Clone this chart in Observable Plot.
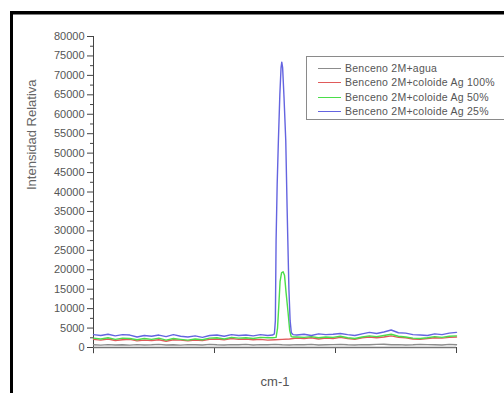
<!DOCTYPE html>
<html>
<head>
<meta charset="utf-8">
<script src="https://cdn.jsdelivr.net/npm/d3@7"></script>
<script src="https://cdn.jsdelivr.net/npm/@observablehq/plot@0.6"></script>
<style>
  html, body { margin: 0; padding: 0; background: #fff; width: 504px; height: 393px; overflow: hidden; }
  #wrap { position: relative; width: 504px; height: 393px; font-family: "Liberation Sans", Arial, sans-serif; }
  #legend { position: absolute; left: 306px; top: 56px; width: 240px; height: 64px; border: 1.3px solid #8a8a8a; box-sizing: border-box; background: #fff; z-index: 3; }
  .row { position: absolute; left: 0; height: 14px; }
  .sw { position: absolute; left: 11px; width: 23px; height: 0; border-top: 1.4px solid; }
  .lt { position: absolute; left: 38px; font-size: 10.5px; letter-spacing: 0.25px; color: #555; white-space: nowrap; line-height: 14px; }
  #chart { position: absolute; left: 0; top: 0; z-index: 1; }
  #topline { position: fixed; left: 10px; top: 11px; width: 494px; height: 3px; background: #000; z-index: 100; }
</style>
</head>
<body>
<div id="wrap">
  <div id="chart"></div>
  <div id="legend"></div>
  <div id="topline"></div>
</div>
<script>
// Series names and colours
const seriesNames = ["Benceno 2M+agua", "Benceno 2M+coloide Ag 100%", "Benceno 2M+coloide Ag 50%", "Benceno 2M+coloide Ag 25%"];
const seriesColors = ["#8c8c8c", "#e05a5a", "#4ade4a", "#6464e0"];

// Y axis tick values (labels)
const yTicks = [0,5000,10000,15000,20000,25000,30000,35000,40000,45000,50000,55000,60000,65000,70000,75000,80000];
const yMinor = [2500,7500,12500,17500,22500,27500,32500,37500,42500,47500,52500,57500,62500,67500,72500,77500];
const xTicks = [0,100,200,300];

// Baseline sample positions (arbitrary cm-1 units, no labels in original)
const xs = [0,6,12,18,24,30,36,42,48,54,60,66,72,78,84,90,96,102,108,114,120,126,132,138,144,150,156,162,168,174,180,186,192,198,204,210,216,222,228,234,240,246,252,258,264,270,276,282,288,294,300];

const agua =   [700,600,750,650,700,600,750,650,700,800,650,700,600,750,700,650,800,700,650,750,700,800,650,750,700,800,700,650,750,700,800,650,700,750,800,700,650,750,700,800,850,700,750,650,700,800,750,700,650,800,700];
const ag100 =  [2100,1900,2200,1800,2000,2100,1700,1900,1800,2000,1600,2000,1900,1700,1900,1800,2100,2200,2000,2300,2100,2200,2000,2100,1900,2000,2100,2200,2400,2300,2500,2200,2400,2300,2600,2300,2100,2500,2700,2500,2700,3000,2600,2500,2200,2100,2300,2500,2400,2600,2700];
const ag50 =   [2400,2200,2500,2100,2400,2300,2000,2300,2100,2400,1900,2300,2100,1900,2200,2000,2400,2500,2200,2600,2400,2500,2300,2600,2500,2600,2600,2600,2700,2600,2800,2500,2700,2600,2900,2500,2300,2700,3000,2800,3100,3400,2900,2700,2400,2300,2500,2800,2600,2900,3000];
const ag25 =   [3300,3100,3400,3000,3300,3200,2700,3100,2900,3200,2800,3300,2900,2700,3000,2600,3100,3200,2900,3300,3100,3200,3000,3300,3100,3200,3200,3200,3200,3400,3100,3500,3300,3400,3600,3300,3100,3500,3900,3600,4000,4500,3800,3700,3300,3200,3100,3500,3300,3700,3900];

// Peak region detail
const peak25X = [148,149.5,150.3,150.9,151.8,152.8,154,155,155.6,156.3,157.5,158.9,160,160.6,161.5,162.5,163.5,165];
const peak25Y = [3200,3500,6900,27500,42000,53200,65000,72000,73400,72000,64000,53200,36000,27500,15000,6900,3800,3300];
const peak50X = [148,150.9,152.1,153,154.2,155.4,156.7,157.9,159.2,160.8,162.1,163.4,165];
const peak50Y = [2500,2600,5000,10000,17000,19200,19500,18500,14000,9000,4500,2800,2700];

function build(name, base, px, py) {
  let rows = xs.map((x, i) => ({x, y: base[i], s: name}));
  if (px) {
    rows = rows.filter(d => d.x < px[0] || d.x > px[px.length - 1]);
    px.forEach((x, i) => rows.push({x, y: py[i], s: name}));
    rows.sort((a, b) => a.x - b.x);
  }
  return rows;
}

const data = [
  ...build(seriesNames[0], agua),
  ...build(seriesNames[1], ag100),
  ...build(seriesNames[2], ag50, peak50X, peak50Y),
  ...build(seriesNames[3], ag25, peak25X, peak25Y)
];

const chart = Plot.plot({
  width: 504,
  height: 393,
  marginLeft: 93,
  marginRight: 48,
  marginTop: 36,
  marginBottom: 46,
  style: {fontFamily: '"Liberation Sans", Arial, sans-serif', fontSize: "11px", color: "#555", background: "transparent"},
  x: {domain: [0, 300]},
  y: {domain: [0, 80000]},
  color: {domain: seriesNames, range: seriesColors},
  marks: [
    Plot.axisY({ticks: yTicks, tickSize: 6, tickPadding: 3, tickFormat: d => String(d), label: null, stroke: "#444", fill: "#555"}),
    Plot.axisY({ticks: yMinor, tickSize: 3, tickFormat: () => "", label: null, stroke: "#444"}),
    Plot.axisX({ticks: xTicks, tickSize: 6, tickFormat: () => "", label: null, stroke: "#444"}),
    Plot.ruleX([0], {y1: -1600, y2: 80000, stroke: "#444", strokeWidth: 1}),
    Plot.ruleY([0], {stroke: "#777", strokeWidth: 1.6}),
    Plot.line(data, {x: "x", y: "y", z: "s", stroke: "s", strokeWidth: 1.4}),
    Plot.text(["cm-1"], {frameAnchor: "bottom", dy: 38, fontSize: 13, fill: "#555", ariaLabel: "xlabel"}),
    Plot.text(["Intensidad Relativa"], {frameAnchor: "left", dx: -62, dy: -2, rotate: -90, fontSize: 13, fill: "#666", ariaLabel: "ylabel"})
  ]
});
// Outer page frame of the original screenshot (top and left edges visible)
const svgSel = d3.select(chart);
svgSel.append("rect").attr("x", 10).attr("y", 11).attr("width", 494).attr("height", 3.5).attr("fill", "#000");
svgSel.append("rect").attr("x", 10).attr("y", 11).attr("width", 3).attr("height", 382).attr("fill", "#000");
document.getElementById("chart").appendChild(chart);
svgSel.selectAll('[aria-label="ylabel"] text').style("letter-spacing", "0.6px");

// Legend
const leg = document.getElementById("legend");
const rowTops = [4, 18.3, 32.6, 46.7];
seriesNames.forEach((n, i) => {
  const r = document.createElement("div");
  r.className = "row";
  r.style.top = rowTops[i] + "px";
  r.innerHTML = `<div class="sw" style="border-color:${seriesColors[i]};top:7px"></div><div class="lt" style="top:0">${n}</div>`;
  leg.appendChild(r);
});
</script>
</body>
</html>
